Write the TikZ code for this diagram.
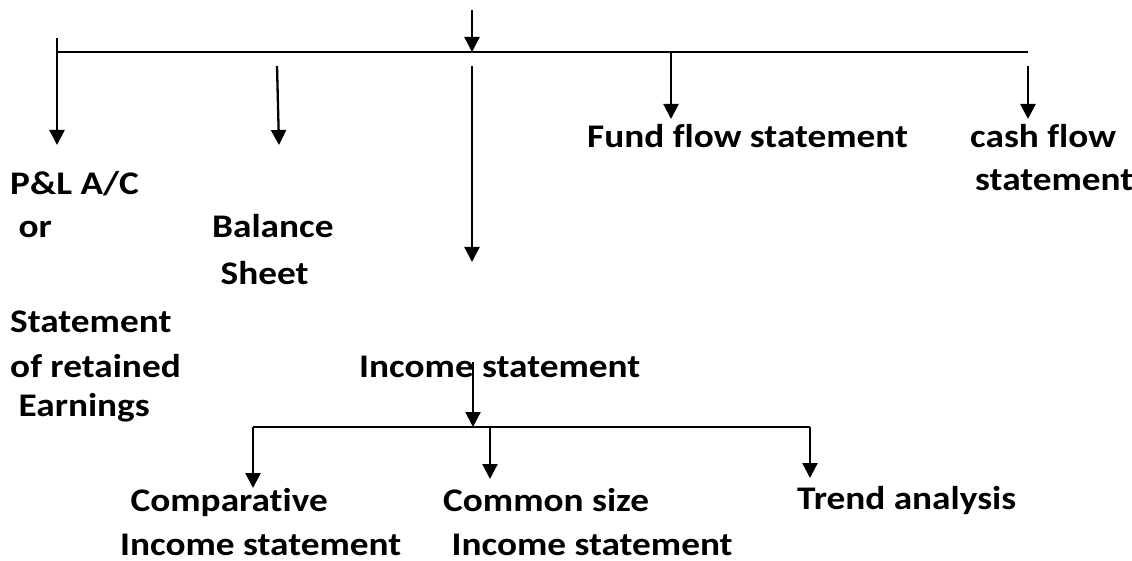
\documentclass[tikz,border=0pt]{standalone}
\usepackage{fontspec}
\setmainfont{Carlito}[FakeStretch=1.13, Ligatures={NoCommon,NoRare}]
\usetikzlibrary{arrows.meta}
\tikzset{
  lbl/.style={anchor=base west, inner sep=0pt, text depth=0pt, font=\fontsize{33}{40}\selectfont\bfseries},
  conn/.style={line width=2.3pt, -{Triangle[width=15pt,length=15pt]}},
  barline/.style={line width=2.3pt},
}
\begin{document}
\begin{tikzpicture}[x=1pt,y=-1pt]
\useasboundingbox[fill=white] (0,0) rectangle (1132,561);
% coordinates
\coordinate (topin) at (472,10);
\coordinate (topj) at (472,52);
\coordinate (barL) at (57,52);
\coordinate (barLtop) at (57,38);
\coordinate (barR) at (1028,52);
\coordinate (plend) at (57,145);
\coordinate (bsin) at (277,66);
\coordinate (bsend) at (279,145);
\coordinate (isin) at (472,66);
\coordinate (isend) at (472,262);
\coordinate (ffin) at (671,52);
\coordinate (ffend) at (671,119);
\coordinate (cfin) at (1028,66);
\coordinate (cfend) at (1028,119);
\coordinate (incin) at (473,362);
\coordinate (incj) at (473,427);
\coordinate (bar2L) at (253,427);
\coordinate (bar2C) at (490,427);
\coordinate (bar2R) at (810,427);
\coordinate (cmpend) at (253,488);
\coordinate (csend) at (490,479);
\coordinate (trend) at (810,478);
% texts
\node[lbl] (pl1) at (10,195) {P\&L A/C};
\node[lbl] (pl2) at (10,238) {\ or};
\node[lbl] (sr1) at (10,332) {Statement};
\node[lbl] (sr2) at (10,377) {of retained};
\node[lbl] (sr3) at (10,416) {\ Earnings};
\node[lbl] (bs1) at (212,238) {Balance};
\node[lbl] (bs2) at (212,284) {\ Sheet};
\node[lbl] (ff) at (587,148) {Fund flow statement};
\node[lbl] (cf1) at (970,148) {cash flow};
\node[lbl] (cf2) at (975,191) {statement};
\node[lbl] (inc) at (359,377) {Income statement};
\node[lbl] (cmp1) at (122,511) {\ Comparative};
\node[lbl] (cmp2) at (120,555) {Income statement};
\node[lbl] (cs1) at (443,511) {Common size};
\node[lbl] (cs2) at (443,555) {\ Income statement};
\node[lbl] (ta) at (797,509) {Trend analysis};
% connectors
\draw[conn] (topin) -- (topj);
\draw[barline] (barL) -- (barR);
\draw[conn] (barLtop) -- (plend);
\draw[conn] (bsin) -- (bsend);
\draw[conn] (isin) -- (isend);
\draw[conn] (ffin) -- (ffend);
\draw[conn] (cfin) -- (cfend);
\draw[conn] (incin) -- (incj);
\draw[barline] (bar2L) -- (bar2R);
\draw[conn] (bar2L) -- (cmpend);
\draw[conn] (bar2C) -- (csend);
\draw[conn] (bar2R) -- (trend);
\end{tikzpicture}
\end{document}
